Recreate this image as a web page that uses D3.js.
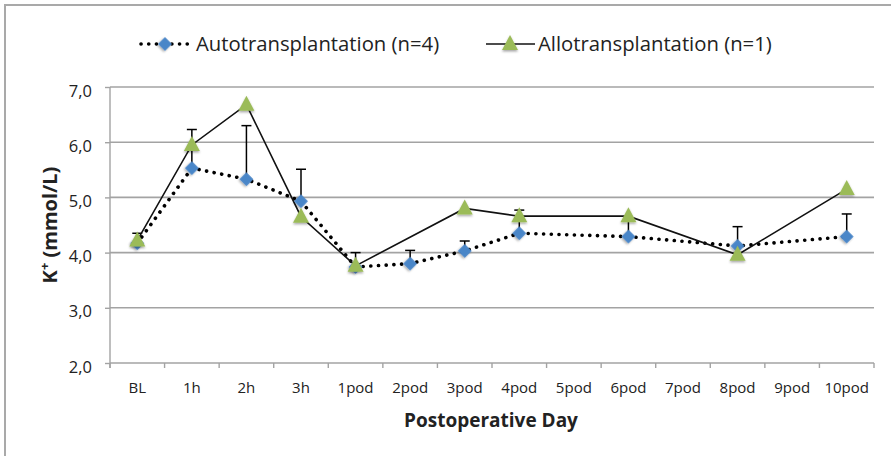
<!DOCTYPE html>
<html>
<head>
<meta charset="utf-8">
<script src="https://cdn.jsdelivr.net/npm/d3@7"></script>
<style>
  html, body { margin: 0; padding: 0; background: #fff; }
  svg { display: block; }
</style>
</head>
<body>
<script>
const categories = ["BL","1h","2h","3h","1pod","2pod","3pod","4pod","5pod","6pod","7pod","8pod","9pod","10pod"];
const autoValues = [4.17, 5.53, 5.33, 4.93, 3.74, 3.80, 4.03, 4.35, null, 4.29, null, 4.12, null, 4.29];
const autoErrUpper = [4.35, 6.23, 6.30, 5.51, 4.00, 4.04, 4.21, 4.77, null, 4.62, null, 4.47, null, 4.70];
const alloValues = [4.22, 5.95, 6.68, 4.65, 3.76, null, 4.80, 4.66, null, 4.66, null, 3.96, null, 5.15];
const yTicks = [2, 3, 4, 5, 6, 7];
const seriesNames = ["Autotransplantation (n=4)", "Allotransplantation (n=1)"];
const xTitle = "Postoperative Day";

const W = 891, H = 456;
const margin = {left: 110, right: 17, top: 87, bottom: 93};
const font = "'Open Sans', Lato, sans-serif";

const svg = d3.select("body").append("svg").attr("width", W).attr("height", H);

const defs = svg.append("defs");
const f = defs.append("filter").attr("id", "sh").attr("x", "-50%").attr("y", "-50%").attr("width", "200%").attr("height", "200%");
f.append("feDropShadow").attr("dx", 0).attr("dy", 1.5).attr("stdDeviation", 1.2).attr("flood-color", "#000").attr("flood-opacity", 0.35);

// outer frame
svg.append("path").attr("d", `M5,${H} L5,5 L${W},5`).attr("fill", "none").attr("stroke", "#a9a9a9").attr("stroke-width", 2);

const x = d3.scaleBand().domain(categories).range([margin.left, W - margin.right]);
const y = d3.scaleLinear().domain([2, 7]).range([H - margin.bottom, margin.top]);
const cx = d => x(d) + x.bandwidth() / 2;

// gridlines
svg.append("g").selectAll("line").data(yTicks.slice(1)).join("line")
  .attr("x1", margin.left).attr("x2", W - margin.right)
  .attr("y1", d => y(d)).attr("y2", d => y(d))
  .attr("stroke", "#a3a3a3").attr("stroke-width", 1.6);

// y axis
const yAxis = d3.axisLeft(y).tickValues(yTicks).tickSize(5).tickPadding(13)
  .tickFormat(d => d3.format(".1f")(d).replace(".", ","));
const gy = svg.append("g").attr("transform", `translate(${margin.left},0)`).call(yAxis);
gy.select(".domain").attr("stroke", "#a3a3a3").attr("stroke-width", 1.4).attr("d", `M0,${y(7)}V${y(2)+5}`);
gy.selectAll(".tick line").attr("stroke", "#a3a3a3").attr("stroke-width", 1.4);
gy.selectAll("text").attr("font-family", font).attr("font-size", 16.5).attr("fill", "#222").attr("dy", "0.55em");

// x axis
const xAxis = d3.axisBottom(x).tickSize(0).tickPadding(19);
const gx = svg.append("g").attr("transform", `translate(0,${y(2)})`).call(xAxis);
gx.select(".domain").attr("stroke", "#a3a3a3").attr("stroke-width", 1.4).attr("d", `M${margin.left},0H${W - margin.right}`);
gx.selectAll("text").attr("font-family", font).attr("font-size", 15).attr("fill", "#222");
// x tick marks at band boundaries
const bounds = categories.map(c => x(c)).concat([W - margin.right]);
svg.append("g").selectAll("line").data(bounds).join("line")
  .attr("x1", d => d).attr("x2", d => d)
  .attr("y1", y(2)).attr("y2", y(2) + 5)
  .attr("stroke", "#a3a3a3").attr("stroke-width", 1.4);

// titles
svg.append("text").attr("x", 491).attr("y", 427)
  .attr("text-anchor", "middle").attr("font-family", font).attr("font-weight", "bold")
  .attr("font-size", 19).attr("fill", "#222").text(xTitle);
const yt = svg.append("text").attr("transform", `translate(57,${(y(2)+y(7))/2}) rotate(-90)`)
  .attr("text-anchor", "middle").attr("font-family", font).attr("font-weight", "bold")
  .attr("font-size", 20).attr("fill", "#222");
yt.append("tspan").text("K");
yt.append("tspan").attr("font-size", 13).attr("dy", -8).text("+");
yt.append("tspan").attr("dy", 8).text(" (mmol/L)");

const autoData = categories.map((c, i) => ({c, v: autoValues[i], e: autoErrUpper[i]})).filter(d => d.v != null);
const alloData = categories.map((c, i) => ({c, v: alloValues[i]})).filter(d => d.v != null);

const line = d3.line().x(d => cx(d.c)).y(d => y(d.v));

// auto dotted line
svg.append("path").datum(autoData).attr("d", line).attr("fill", "none")
  .attr("stroke", "#000").attr("stroke-width", 3.6).attr("stroke-linecap", "round")
  .attr("stroke-dasharray", "0.1,7.6");

// error bars
const eb = svg.append("g").attr("stroke", "#000").attr("stroke-width", 1.5);
eb.selectAll("line.v").data(autoData).join("line").attr("class", "v")
  .attr("x1", d => cx(d.c)).attr("x2", d => cx(d.c)).attr("y1", d => y(d.v)).attr("y2", d => y(d.e));
eb.selectAll("line.h").data(autoData).join("line").attr("class", "h")
  .attr("x1", d => cx(d.c) - 5).attr("x2", d => cx(d.c) + 5).attr("y1", d => y(d.e)).attr("y2", d => y(d.e));

// allo solid line
svg.append("path").datum(alloData).attr("d", line).attr("fill", "none")
  .attr("stroke", "#111").attr("stroke-width", 1.6);

const diamond = d3.symbol().type(d3.symbolSquare).size(95)();
const tri = "M0,-9 L8,6 L-8,6 Z";

// auto markers
svg.append("g").selectAll("path").data(autoData).join("path")
  .attr("d", diamond).attr("transform", d => `translate(${cx(d.c)},${y(d.v)}) rotate(45)`)
  .attr("fill", "#4a86c8").attr("filter", "url(#sh)");
// allo markers
svg.append("g").selectAll("path").data(alloData).join("path")
  .attr("d", tri).attr("transform", d => `translate(${cx(d.c)},${y(d.v)})`)
  .attr("fill", "#9bbb59").attr("filter", "url(#sh)");

// legend
const lg = svg.append("g");
const ly = 44;
lg.append("line").attr("x1", 141).attr("x2", 188).attr("y1", ly).attr("y2", ly)
  .attr("stroke", "#000").attr("stroke-width", 3.6).attr("stroke-linecap", "round").attr("stroke-dasharray", "0.1,7.6");
lg.append("path").attr("d", diamond).attr("transform", `translate(165,${ly}) rotate(45)`).attr("fill", "#4a86c8").attr("filter", "url(#sh)");
lg.append("text").attr("x", 196).attr("y", ly + 7).attr("font-family", font).attr("font-size", 20.3).attr("fill", "#222").text(seriesNames[0]);
lg.append("line").attr("x1", 486).attr("x2", 535).attr("y1", ly).attr("y2", ly).attr("stroke", "#111").attr("stroke-width", 1.6);
lg.append("path").attr("d", tri).attr("transform", `translate(510,${ly})`).attr("fill", "#9bbb59").attr("filter", "url(#sh)");
lg.append("text").attr("x", 538).attr("y", ly + 7).attr("font-family", font).attr("font-size", 20.3).attr("fill", "#222").text(seriesNames[1]);
</script>
</body>
</html>
